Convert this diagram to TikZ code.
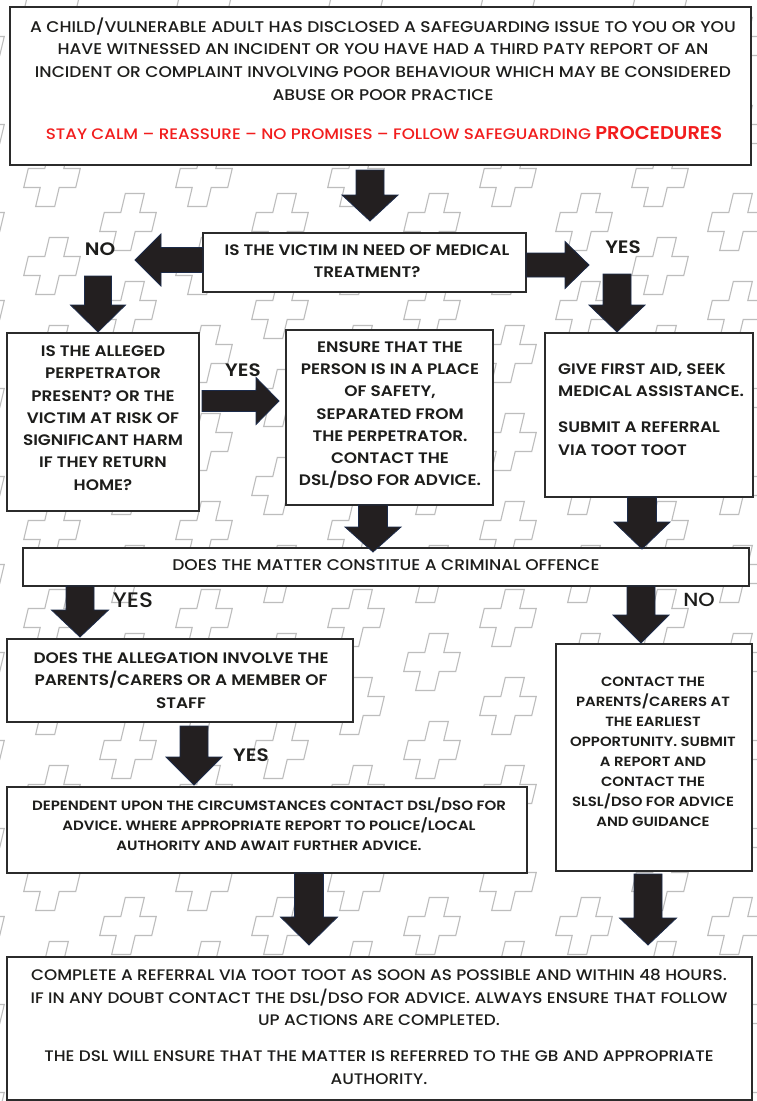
\documentclass[tikz,border=0pt]{standalone}
\usepackage{fontspec}
\setmainfont{Poppins}
\newfontfamily\sbf{Poppins SemiBold}[FakeStretch=1.11]
\newfontfamily\cnd{Poppins Medium}[FakeStretch=1.10]
\newfontfamily\cndb{Poppins SemiBold}[FakeStretch=1.05]
\definecolor{ink}{HTML}{1D1D1B}
\definecolor{boxline}{HTML}{2B2B2B}
\definecolor{arrfill}{HTML}{231F20}
\definecolor{arrline}{HTML}{1C2B4A}
\definecolor{patline}{HTML}{BDBDBD}
\definecolor{alert}{HTML}{F21D1D}
\tikzset{
  box/.style={draw=boxline,line width=1.4pt,fill=white,inner sep=0pt,outer sep=0pt},
  txt/.style={text=ink,align=center,inner sep=0pt},
  sbtext/.style={txt,font=\sbf\fontsize{15.2}{22.3}\selectfont},
  smtext/.style={txt,font=\sbf\fontsize{13.4}{20}\selectfont},
  cndtext/.style={txt,font=\cnd\fontsize{15.5}{22.8}\selectfont},
  lab/.style={txt,font=\sbf\fontsize{18}{20}\selectfont},
  cndlab/.style={txt,font=\cnd\fontsize{21}{22}\selectfont},
  blk/.style={fill=arrfill,draw=arrline,line width=0.8pt,line join=miter},
  crossline/.style={draw=patline,line width=1.1pt,line join=miter},
  pics/plus/.style={code={
    \path[crossline] (-2.66,-28.5) -- (16.34,-28.5) -- (11.78,-9.5) -- (28.28,-9.5)
      -- (23.72,9.5) -- (7.22,9.5) -- (2.66,28.5) -- (-16.34,28.5) -- (-11.78,9.5)
      -- (-28.28,9.5) -- (-23.72,-9.5) -- (-7.22,-9.5) -- cycle;}},
  pics/darr/.style n args={4}{code={
    \path[blk] ({-(#3)},0) -- (#3,0) -- (#3,{(#1)-(#2)}) -- (#4,{(#1)-(#2)}) -- (0,#1)
      -- ({-(#4)},{(#1)-(#2)}) -- ({-(#3)},{(#1)-(#2)}) -- cycle;}},
  pics/harr/.style n args={4}{code={
    \path[blk] (0,{-(#3)}) -- ({(#1)-(#2)},{-(#3)}) -- ({(#1)-(#2)},{-(#4)}) -- (#1,0)
      -- ({(#1)-(#2)},#4) -- ({(#1)-(#2)},#3) -- (0,#3) -- cycle;}},
}
\begin{document}
\begin{tikzpicture}[x=1pt,y=-1pt]
\useasboundingbox (0,0) rectangle (757,1101);
\fill[white] (0,0) rectangle (757,1101);
% background pattern
\begin{scope}
\clip (0,0) rectangle (757,1101);
\foreach \i in {0,...,6}{\foreach \j in {0,...,14}{
  \pic at ({52+152*(\i-1)},{178+88*(\j-3)}) {plus};
  \pic at ({128+152*(\i-1)},{222+88*(\j-3)}) {plus};
}}
\end{scope}
% boxes
\node[box,minimum width=741,minimum height=158] (top) at (380.5,86) {};
\node[box,minimum width=323,minimum height=59] (med) at (364.5,262.5) {};
\node[box,minimum width=192,minimum height=178] (perp) at (103,422) {};
\node[box,minimum width=207,minimum height=175] (ens) at (389.5,417.5) {};
\node[box,minimum width=208,minimum height=164] (aid) at (649,415) {};
\node[box,minimum width=726,minimum height=38] (crim) at (386,567) {};
\node[box,minimum width=346,minimum height=83] (alle) at (180,680.5) {};
\node[box,minimum width=520,minimum height=86] (dep) at (267,830) {};
\node[box,minimum width=196,minimum height=227] (cont) at (654,757.5) {};
\node[box,minimum width=745,minimum height=143] (bot) at (379.5,1028.5) {};
% texts
\node[cndtext] (topt) at (383,59) {A CHILD/VULNERABLE ADULT HAS DISCLOSED A SAFEGUARDING ISSUE TO YOU OR YOU\\HAVE WITNESSED AN INCIDENT OR YOU HAVE HAD A THIRD PATY REPORT OF AN\\INCIDENT OR COMPLAINT INVOLVING POOR BEHAVIOUR WHICH MAY BE CONSIDERED\\ABUSE OR POOR PRACTICE};
\node[cndtext,text=alert,font=\cnd\fontsize{15.2}{22.8}\selectfont] (topr) at (384,133) {STAY CALM – REASSURE – NO PROMISES – FOLLOW SAFEGUARDING {\cndb\fontsize{18.5}{22}\selectfont PROCEDURES}};
\node[sbtext] (medt) at (367,261.5) {IS THE VICTIM IN NEED OF MEDICAL\\TREATMENT?};
\node[sbtext] (perpt) at (103,418) {IS THE ALLEGED\\PERPETRATOR\\PRESENT? OR THE\\VICTIM AT RISK OF\\SIGNIFICANT HARM\\IF THEY RETURN\\HOME?};
\node[sbtext] (enst) at (390,415) {ENSURE THAT THE\\PERSON IS IN A PLACE\\OF SAFETY,\\SEPARATED FROM\\THE PERPETRATOR.\\CONTACT THE\\DSL/DSO FOR ADVICE.};
\node[sbtext,align=left,anchor=west] (aidt) at (558,409.5) {GIVE FIRST AID, SEEK\\MEDICAL ASSISTANCE.\\[13.5pt]SUBMIT A REFERRAL\\VIA TOOT TOOT};
\node[cndtext] (crimt) at (386,565) {DOES THE MATTER CONSTITUE A CRIMINAL OFFENCE};
\node[sbtext] (allet) at (181,680.5) {DOES THE ALLEGATION INVOLVE THE\\PARENTS/CARERS OR A MEMBER OF\\STAFF};
\node[smtext,font=\sbf\fontsize{13.5}{20}\selectfont] (dept) at (269,824) {DEPENDENT UPON THE CIRCUMSTANCES CONTACT DSL/DSO FOR\\ADVICE. WHERE APPROPRIATE REPORT TO POLICE/LOCAL\\AUTHORITY AND AWAIT FURTHER ADVICE.};
\node[smtext] (contt) at (653,752) {CONTACT THE\\PARENTS/CARERS AT\\THE EARLIEST\\OPPORTUNITY. SUBMIT\\A REPORT AND\\CONTACT THE\\SLSL/DSO FOR ADVICE\\AND GUIDANCE};
\node[cndtext,font=\cnd\fontsize{15.3}{22.8}\selectfont] (bott) at (379,997.5) {COMPLETE A REFERRAL VIA TOOT TOOT AS SOON AS POSSIBLE AND WITHIN 48 HOURS.\\IF IN ANY DOUBT CONTACT THE DSL/DSO FOR ADVICE. ALWAYS ENSURE THAT FOLLOW\\UP ACTIONS ARE COMPLETED.};
\node[cndtext,font=\cnd\fontsize{15.3}{22.8}\selectfont] (botr) at (379,1068) {THE DSL WILL ENSURE THAT THE MATTER IS REFERRED TO THE GB AND APPROPRIATE\\AUTHORITY.};
% arrows
\pic (a1) at (370,170) {darr={51}{26}{14}{28}};
\pic (a2) at (203,260) {harr={-68}{-26}{12.5}{26}};
\pic (a3) at (98,276) {darr={56}{27}{13.5}{27.5}};
\pic (a4) at (526,265) {harr={63}{24}{12}{23.5}};
\pic (a5) at (617,274) {darr={58}{27}{14}{28}};
\pic (a6) at (202,401) {harr={77}{23}{10.5}{23.5}};
\pic (a7) at (373,505) {darr={47}{25}{14.5}{28}};
\pic (a8) at (642,497) {darr={52}{27}{14.5}{28}};
\pic (a9) at (80,586) {darr={51}{27}{14}{28.5}};
\pic (a10) at (641,586) {darr={57}{28}{14}{28}};
\pic (a11) at (194,726) {darr={59}{28}{14}{28}};
\pic (a12) at (309,873) {darr={72}{28}{14.5}{28.5}};
\pic (a13) at (648,874) {darr={71}{27}{14}{28.5}};
% labels
\node[lab] (l1) at (100,249) {NO};
\node[lab] (l2) at (623,247) {YES};
\node[lab] (l3) at (243,370) {YES};
\node[cndlab] (l4) at (133,600) {YES};
\node[cndlab,font=\cnd\fontsize{19}{20}\selectfont] (l5) at (699,600) {NO};
\node[lab] (l6) at (251,755) {YES};
\end{tikzpicture}
\end{document}
